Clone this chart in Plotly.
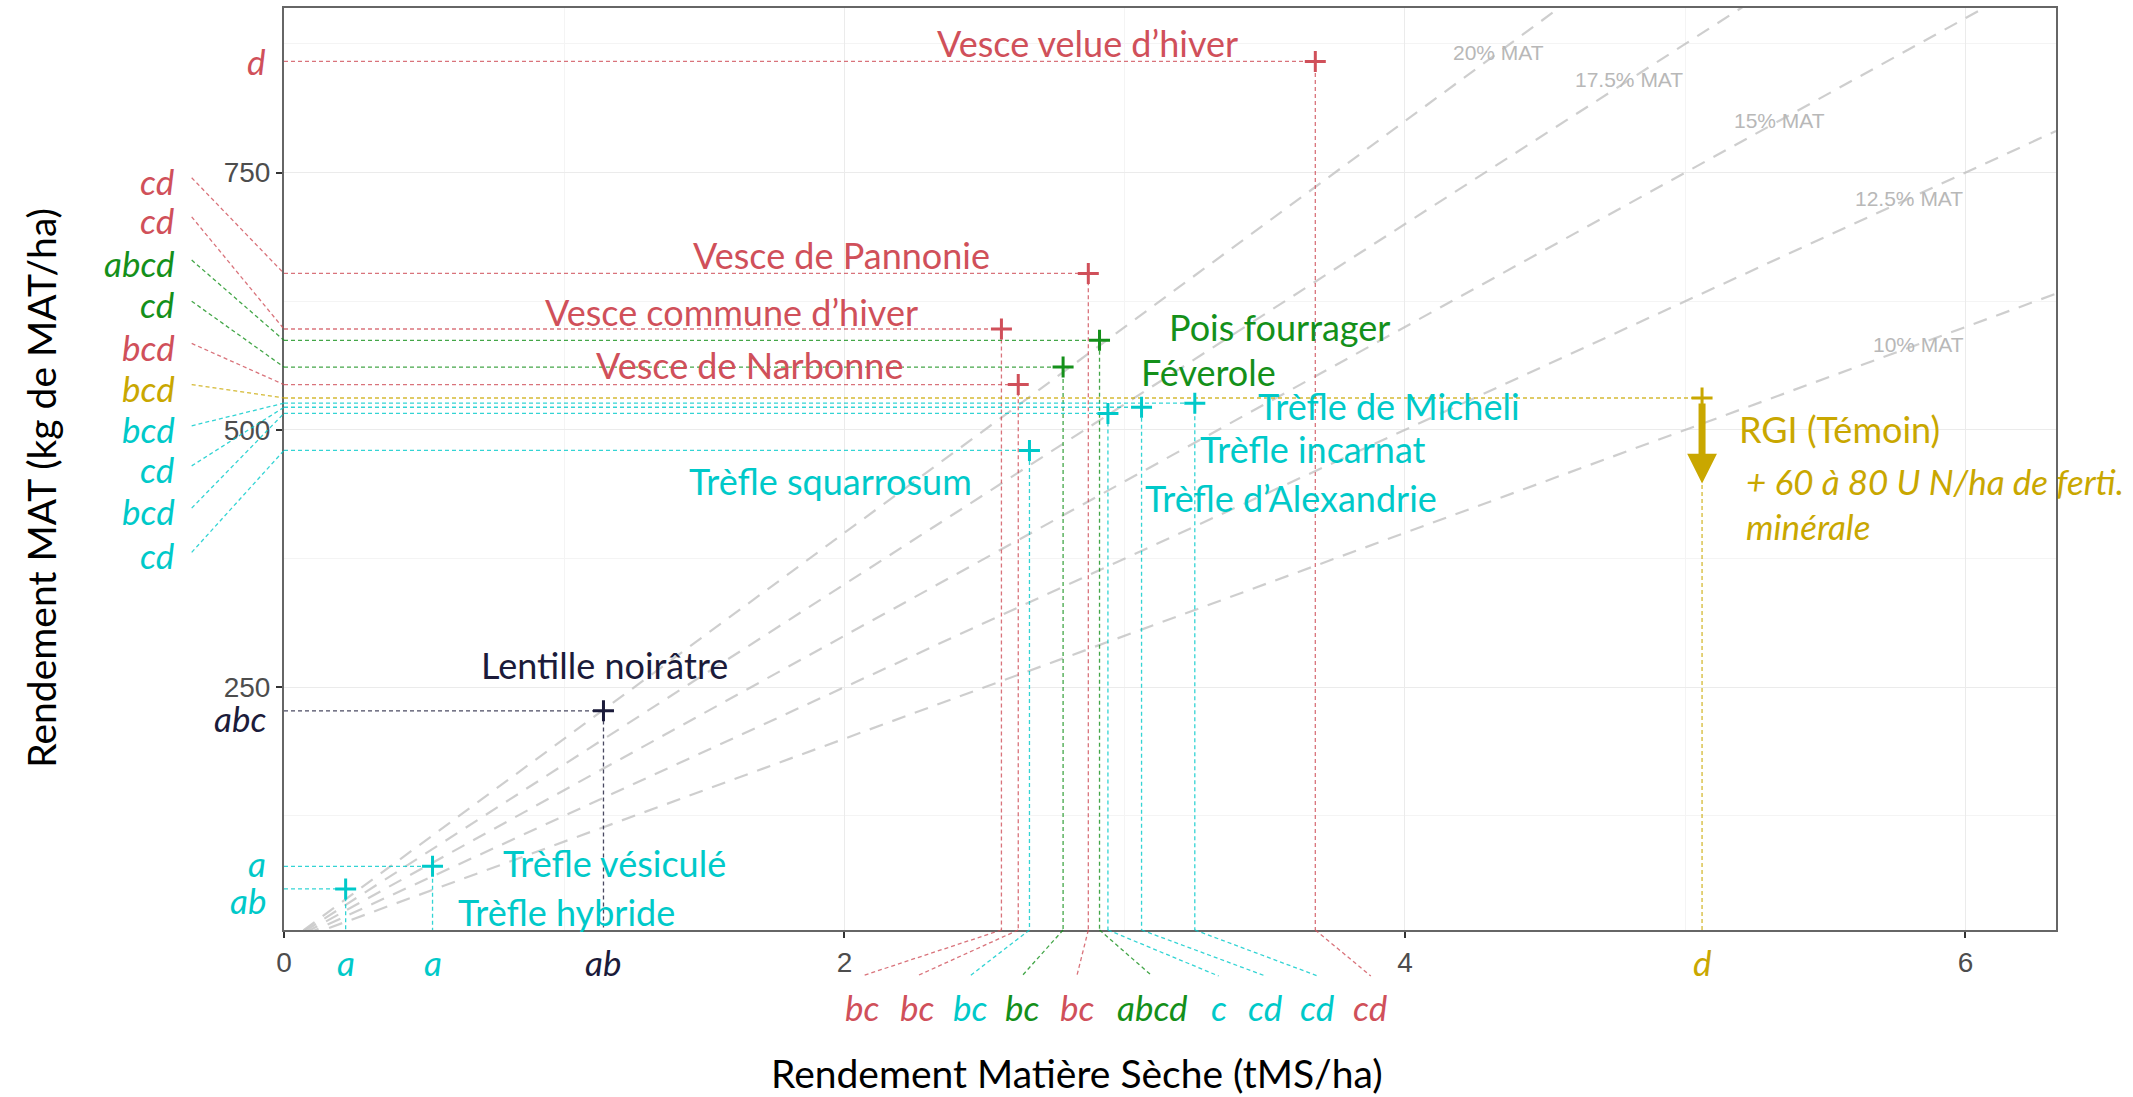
import plotly.graph_objects as go

# ---------------- data ----------------
species = ["Vesce velue d’hiver", "Vesce de Pannonie", "Vesce commune d’hiver", "Pois fourrager",
           "Féverole", "Vesce de Narbonne", "RGI (Témoin)", "Trèfle de Micheli", "Trèfle incarnat",
           "Trèfle d’Alexandrie", "Trèfle squarrosum", "Lentille noirâtre", "Trèfle vésiculé",
           "Trèfle hybride"]
ms_t_ha = [3.68, 2.87, 2.56, 2.91, 2.78, 2.62, 5.06, 3.25, 3.06, 2.94, 2.66, 1.14, 0.53, 0.22]
mat_kg_ha = [858, 652, 598, 587, 561, 544, 531, 526, 522, 516, 480, 227, 76, 54]
groupe = ["vesce", "vesce", "vesce", "proteagineux", "proteagineux", "vesce", "temoin",
          "trefle", "trefle", "trefle", "trefle", "lentille", "trefle", "trefle"]
lettres_mat = ["d", "cd", "cd", "abcd", "cd", "bcd", "bcd", "bcd", "cd", "bcd", "cd", "abc", "a", "ab"]
lettres_ms = ["cd", "bc", "bc", "abcd", "bc", "bc", "d", "cd", "cd", "c", "bc", "ab", "a", "a"]
pct_mat = [20, 17.5, 15, 12.5, 10]
pct_labels = ["20% MAT", "17.5% MAT", "15% MAT", "12.5% MAT", "10% MAT"]
ferti_note = ["+ 60 à 80 U N/ha de ferti.", "minérale"]
x_title = "Rendement Matière Sèche (tMS/ha)"
y_title = "Rendement MAT (kg de MAT/ha)"

# ---------------- style / layout ----------------
W, H = 2133, 1097
PL, PR, PT, PB = 284.3, 2056.0, 8.0, 930.0
XR = [0, 6.323]
YR = [14.1, 909.9]

def px_x(p):
    return (p - PL) / (PR - PL)

def px_y(p):
    return (PB - p) / (PB - PT)

colors = {"vesce": "#D0505A", "proteagineux": "#14901A", "trefle": "#00C9C9",
          "lentille": "#1B1B3A", "temoin": "#C9A700"}
line_colors = {"vesce": "rgba(208,80,90,0.8)", "proteagineux": "rgba(20,144,26,0.8)",
               "trefle": "rgba(0,201,201,0.8)", "lentille": "rgba(27,27,58,0.8)",
               "temoin": "rgba(201,167,0,0.8)"}
FONT = "Lato"
LAB_SIZE = 36
NOTE_SIZE = 35
LET_SIZE = 35

# species label positions (data coords) and anchor
label_pos = {
    "Vesce velue d’hiver": (3.411, 876, "right"),
    "Vesce de Pannonie": (2.525, 670, "right"),
    "Vesce commune d’hiver": (2.270, 615, "right"),
    "Vesce de Narbonne": (2.217, 563, "right"),
    "Pois fourrager": (3.150, 600, "left"),
    "Féverole": (3.050, 556, "left"),
    "Trèfle de Micheli": (3.468, 523, "left"),
    "Trèfle incarnat": (3.262, 481, "left"),
    "Trèfle d’Alexandrie": (3.066, 434, "left"),
    "Trèfle squarrosum": (2.461, 450, "right"),
    "RGI (Témoin)": (5.186, 501, "left"),
    "Lentille noirâtre": (0.696, 272, "left"),
    "Trèfle vésiculé": (0.776, 79, "left"),
    "Trèfle hybride": (0.615, 32, "left"),
}
note_pos = [(5.211, 450), (5.211, 407)]
pct_label_x = [4.332, 4.80, 5.336, 5.80, 5.831]

# letters fanned on the left (label y in data units) / bottom (label x in data units)
left_fan = {"Vesce de Pannonie": 742, "Vesce commune d’hiver": 704, "Pois fourrager": 662,
            "Féverole": 622, "Vesce de Narbonne": 581, "RGI (Témoin)": 541,
            "Trèfle de Micheli": 501, "Trèfle incarnat": 462, "Trèfle d’Alexandrie": 421,
            "Trèfle squarrosum": 378}
left_inline_shift = {"Vesce velue d’hiver": 0, "Lentille noirâtre": -7, "Trèfle vésiculé": 3,
                     "Trèfle hybride": -11}
bottom_fan = {"Vesce commune d’hiver": 2.062, "Vesce de Narbonne": 2.258, "Trèfle squarrosum": 2.447,
              "Féverole": 2.633, "Vesce de Pannonie": 2.829, "Pois fourrager": 3.098,
              "Trèfle d’Alexandrie": 3.335, "Trèfle incarnat": 3.502, "Trèfle de Micheli": 3.689,
              "Vesce velue d’hiver": 3.878}

fig = go.Figure()

# MAT % reference lines
for p in pct_mat:
    fig.add_trace(go.Scatter(x=[0, XR[1]], y=[0, p * 10 * XR[1]], mode="lines",
                             line=dict(color="rgba(190,190,190,0.75)", width=2.2, dash="14px,10px"),
                             hoverinfo="skip", showlegend=False))

# guide lines from axes to each point
for s, x, y, g in zip(species, ms_t_ha, mat_kg_ha, groupe):
    fig.add_trace(go.Scatter(x=[0, x, x], y=[y, y, YR[0]], mode="lines",
                             line=dict(color=line_colors[g], width=1.3, dash="4px,3px"),
                             hoverinfo="skip", showlegend=False))

# points
fig.add_trace(go.Scatter(x=ms_t_ha, y=mat_kg_ha, mode="markers",
                         marker=dict(symbol="cross-thin", size=15,
                                     line=dict(width=3, color=[colors[g] for g in groupe])),
                         hovertext=species, showlegend=False))

annotations = []
shapes = []

# species labels
for s, g in zip(species, groupe):
    lx, ly, anc = label_pos[s]
    annotations.append(dict(x=lx, y=ly, xref="x", yref="y", text=s, showarrow=False,
                            xanchor=anc, yanchor="middle",
                            font=dict(family=FONT, size=LAB_SIZE, color=colors[g])))
for t, (nx, ny) in zip(ferti_note, note_pos):
    annotations.append(dict(x=nx, y=ny, xref="x", yref="y", text="<i>" + t + "</i>", showarrow=False,
                            xanchor="left", yanchor="middle",
                            font=dict(family=FONT, size=NOTE_SIZE, color=colors["temoin"])))

# RGI arrow
i_rgi = species.index("RGI (Témoin)")
annotations.append(dict(x=ms_t_ha[i_rgi], y=448, ax=ms_t_ha[i_rgi], ay=mat_kg_ha[i_rgi] - 4,
                        xref="x", yref="y", axref="x", ayref="y", text="", showarrow=True,
                        arrowhead=2, arrowsize=0.85, arrowwidth=7, arrowcolor=colors["temoin"]))

# MAT % labels
for p, t, lx in zip(pct_mat, pct_labels, pct_label_x):
    annotations.append(dict(x=lx, y=p * 10 * lx, xref="x", yref="y", text=t, showarrow=False,
                            xanchor="center", yanchor="middle",
                            font=dict(family="Liberation Sans", size=21, color="#B8B8B8")))

# significance letters, y axis (MAT)
for s, y, g, l in zip(species, mat_kg_ha, groupe, lettres_mat):
    if s in left_fan:
        ly = left_fan[s]
        shapes.append(dict(type="line", xref="paper", yref="y", x0=px_x(192), y0=ly + 3,
                           x1=0, y1=y, line=dict(color=line_colors[g], width=1.3, dash="4px,3px")))
        annotations.append(dict(x=px_x(177), y=ly, xref="paper", yref="y", text="<i>" + l + "</i>",
                                showarrow=False, xanchor="right", yanchor="middle",
                                font=dict(family=FONT, size=LET_SIZE, color=colors[g])))
    else:
        annotations.append(dict(x=px_x(268), y=y, xref="paper", yref="y", text="<i>" + l + "</i>",
                                yshift=left_inline_shift.get(s, 0),
                                showarrow=False, xanchor="right", yanchor="middle",
                                font=dict(family=FONT, size=LET_SIZE, color=colors[g])))

# significance letters, x axis (MS)
for s, x, g, l in zip(species, ms_t_ha, groupe, lettres_ms):
    if s in bottom_fan:
        lx = bottom_fan[s]
        shapes.append(dict(type="line", xref="x", yref="paper", x0=x, y0=0, x1=lx, y1=px_y(976),
                           line=dict(color=line_colors[g], width=1.3, dash="4px,3px")))
        annotations.append(dict(x=lx, y=px_y(1007), xref="x", yref="paper", text="<i>" + l + "</i>",
                                showarrow=False, xanchor="center", yanchor="middle",
                                font=dict(family=FONT, size=LET_SIZE, color=colors[g])))
    else:
        annotations.append(dict(x=x, y=px_y(962), xref="x", yref="paper", text="<i>" + l + "</i>",
                                showarrow=False, xanchor="center", yanchor="middle",
                                font=dict(family=FONT, size=LET_SIZE, color=colors[g])))

# axis titles
annotations.append(dict(x=px_x(1077), y=px_y(1073), xref="paper", yref="paper", text=x_title,
                        showarrow=False, xanchor="center", yanchor="middle",
                        font=dict(family=FONT, size=39, color="#000000")))
annotations.append(dict(x=px_x(41), y=px_y(488), xref="paper", yref="paper", text=y_title,
                        showarrow=False, xanchor="center", yanchor="middle", textangle=-90,
                        font=dict(family=FONT, size=39, color="#000000")))

fig.update_layout(
    width=W, height=H,
    margin=dict(l=PL, r=W - PR, t=PT, b=H - PB),
    plot_bgcolor="white", paper_bgcolor="white",
    showlegend=False,
    annotations=annotations, shapes=shapes,
    xaxis=dict(range=XR, tick0=0, dtick=2, showgrid=True, gridcolor="#EBEBEB", gridwidth=1.3,
               minor=dict(dtick=1, showgrid=True, gridcolor="#F4F4F4", gridwidth=1.3),
               zeroline=False, showline=True, linecolor="#666666", linewidth=2, mirror=True,
               ticks="outside", ticklen=6, tickwidth=1.5, tickcolor="#333333", automargin=False,
               tickfont=dict(family="Liberation Sans", size=28, color="#4D4D4D")),
    yaxis=dict(range=YR, tick0=0, dtick=250, showgrid=True, gridcolor="#EBEBEB", gridwidth=1.3,
               minor=dict(dtick=125, showgrid=True, gridcolor="#F4F4F4", gridwidth=1.3),
               zeroline=False, showline=True, linecolor="#666666", linewidth=2, mirror=True,
               ticks="outside", ticklen=6, tickwidth=1.5, tickcolor="#333333", automargin=False,
               tickfont=dict(family="Liberation Sans", size=28, color="#4D4D4D")),
)

fig.write_html("out.html", config={"displayModeBar": False},
               post_script="document.body.style.margin='0';document.body.style.overflow='hidden';")
